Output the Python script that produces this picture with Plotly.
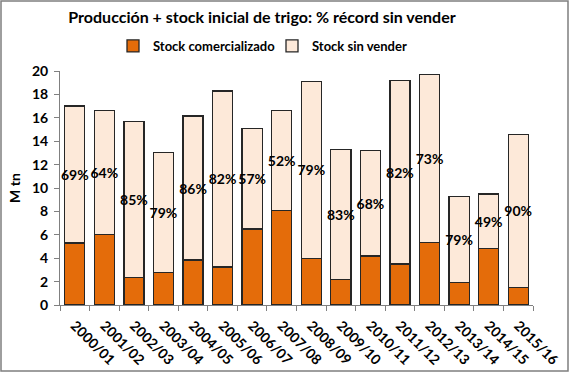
import plotly.graph_objects as go

categories = ["2000/01", "2001/02", "2002/03", "2003/04", "2004/05", "2005/06", "2006/07", "2007/08",
              "2008/09", "2009/10", "2010/11", "2011/12", "2012/13", "2013/14", "2014/15", "2015/16"]
stock_comercializado = [5.3, 6.0, 2.35, 2.8, 3.85, 3.25, 6.5, 8.05, 4.0, 2.2, 4.2, 3.5, 5.35, 1.9, 4.85, 1.5]
stock_sin_vender = [11.7, 10.6, 13.35, 10.25, 12.3, 15.05, 8.6, 8.6, 15.1, 11.1, 9.0, 15.7, 14.35, 7.35, 4.65, 13.1]
pct_labels = ["69%", "64%", "85%", "79%", "86%", "82%", "57%", "52%", "79%", "83%", "68%", "82%", "73%", "79%", "49%", "90%"]

FONT = "Lato"
W, H = 569, 372
ml, mr, mt, mb = 60, 36, 71, 67
pw, ph = W - ml - mr, H - mt - mb

fig = go.Figure()
fig.add_trace(go.Bar(
    x=categories, y=stock_comercializado, name="Stock comercializado",
    marker=dict(color="#E46C0A", line=dict(color="#262626", width=1.3)),
))
fig.add_trace(go.Bar(
    x=categories, y=stock_sin_vender, name="Stock sin vender",
    marker=dict(color="#FDE9D9", line=dict(color="#262626", width=1.3)),
    text=pct_labels, textposition="inside", insidetextanchor="middle",
    constraintext="none", textangle=0,
    textfont=dict(family=FONT, size=14, color="black", weight="bold"),
))

fig.update_layout(
    width=W, height=H,
    barmode="stack", bargap=0.32,
    margin=dict(l=ml, r=mr, t=mt, b=mb, autoexpand=False),
    paper_bgcolor="white", plot_bgcolor="white",
    font=dict(family=FONT, color="black"),
    title=dict(text="Producción + stock inicial de trigo: % récord sin vender",
               x=262 / W, xanchor="center", xref="container", y=1 - 17 / H, yanchor="middle", yref="container",
               font=dict(family=FONT, size=16, color="black", weight="bold")),
    legend=dict(orientation="h", x=113 / W, xanchor="left", xref="container",
                y=1 - 46 / H, yanchor="middle", yref="container",
                font=dict(family=FONT, size=13, color="black", weight="bold"),
                traceorder="normal", itemwidth=30, entrywidth=114, entrywidthmode="pixels",
                bgcolor="rgba(0,0,0,0)"),
    showlegend=True,
    xaxis=dict(showline=True, linecolor="#808080", linewidth=1, ticks="outside", tickson="boundaries",
               ticklen=5, tickcolor="#808080", tickangle=45, automargin=False, ticklabelstandoff=6,
               tickfont=dict(family=FONT, size=14, color="black", weight="bold"), showgrid=False),
    yaxis=dict(range=[0, 20], dtick=2, showline=True, linecolor="#808080", linewidth=1, ticks="outside",
               ticklen=5, tickcolor="#808080", showgrid=False, zeroline=False, automargin=False,
               ticklabelstandoff=3,
               tickfont=dict(family=FONT, size=14, color="black", weight="bold"),
               title=dict(text="M tn", font=dict(family=FONT, size=14, color="black", weight="bold"), standoff=8)),
    shapes=[dict(type="rect", xref="paper", yref="paper",
                 x0=-(ml - 1) / pw, x1=1 + (mr - 1) / pw, y0=-(mb - 1) / ph, y1=1 + (mt - 1) / ph,
                 line=dict(color="#7f7f7f", width=1.5), fillcolor="rgba(0,0,0,0)")],
)

fig.write_html("out.html", config={"displayModeBar": False},
               post_script="document.body.style.margin='0';document.body.style.overflow='hidden';")
